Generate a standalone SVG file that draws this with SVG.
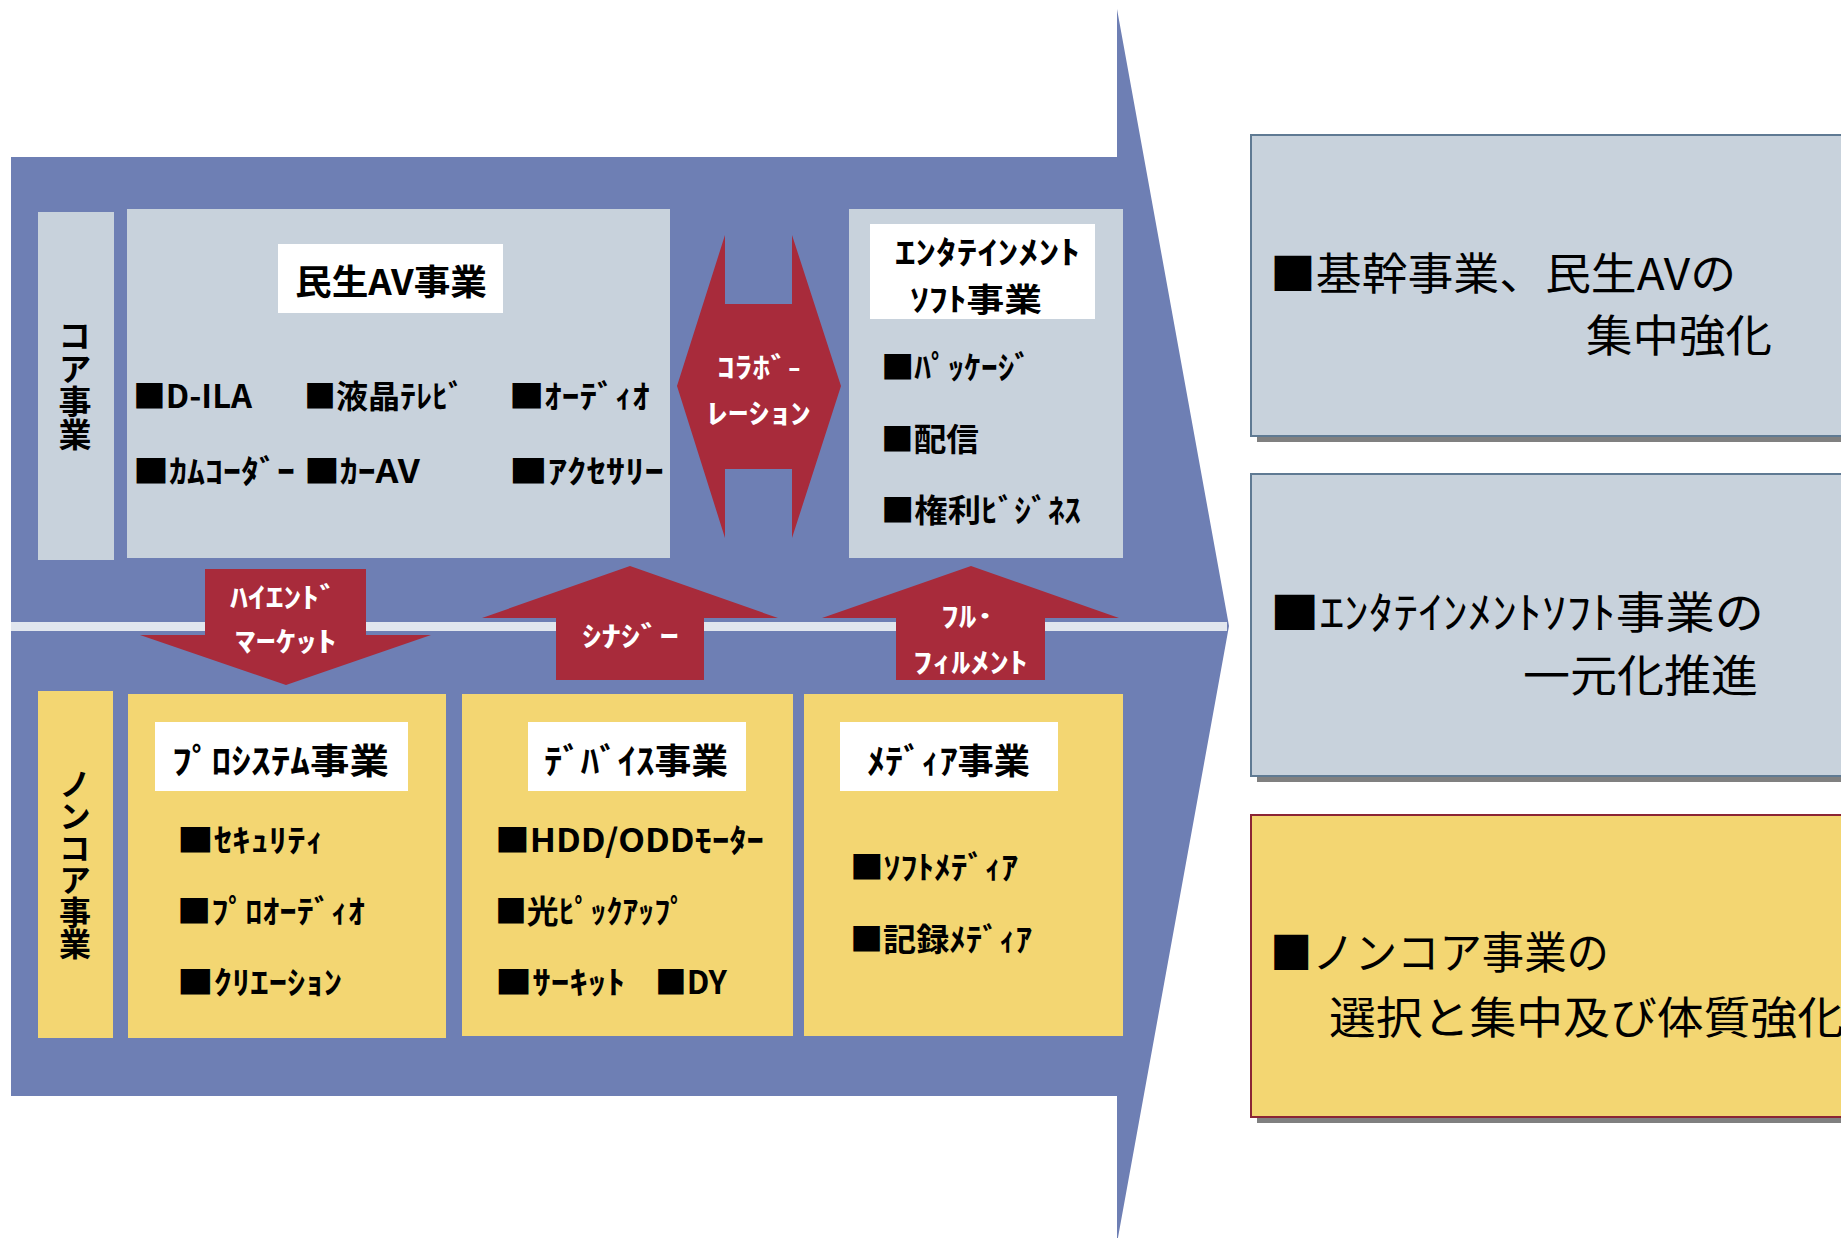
<svg xmlns="http://www.w3.org/2000/svg" width="1841" height="1238" viewBox="0 0 1841 1238">
<style>
.t{font-family:"Noto Sans CJK JP","Noto Sans CJK SC",sans-serif;font-weight:700;fill:#000}
.w{font-family:"Noto Sans CJK JP","Noto Sans CJK SC",sans-serif;font-weight:700;fill:#fff;font-size:28px}
.r{font-family:"Noto Sans CJK JP","Noto Sans CJK SC",sans-serif;font-weight:400;fill:#000;font-size:44px}
.v{writing-mode:vertical-rl;text-orientation:upright}
.gb{fill:#C8D2DC}
.yb{fill:#F3D672}
.wb{fill:#fff}
.red{fill:#A82B3B}
.i{font-size:32px}
.h{font-size:35px}
</style>
<rect width="1841" height="1238" fill="#fff"/>
<g id="band">
<polygon points="11,157 1117,157 1117,9 1229,626 1117,1243 1117,1096 11,1096" fill="#6E7FB4"/>
<rect x="11" y="622" width="1216" height="9" fill="#E1E6EE"/>
</g>
<g id="core-label">
<rect class="gb" x="38" y="212" width="76" height="348"/>
<text class="t v" font-size="33" x="75" y="319">コア事業</text>
</g>
<g id="av">
<rect class="gb" x="127" y="209" width="543" height="349"/>
<rect class="wb" x="278" y="244" width="225" height="69"/>
<text class="t h" x="391" y="295" text-anchor="middle" textLength="192" lengthAdjust="spacingAndGlyphs">民生AV事業</text>
<text class="t i" x="133" y="408" textLength="119" lengthAdjust="spacingAndGlyphs">■D-ILA</text>
<text class="t i" x="304" y="408" textLength="160" lengthAdjust="spacingAndGlyphs">■液晶ﾃﾚﾋﾞ</text>
<text class="t i" x="509" y="408" textLength="141" lengthAdjust="spacingAndGlyphs">■ｵｰﾃﾞｨｵ</text>
<text class="t i" x="133" y="483" textLength="162" lengthAdjust="spacingAndGlyphs">■ｶﾑｺｰﾀﾞｰ</text>
<text class="t i" x="304" y="483" textLength="116" lengthAdjust="spacingAndGlyphs">■ｶｰAV</text>
<text class="t i" x="509" y="483" textLength="155" lengthAdjust="spacingAndGlyphs">■ｱｸｾｻﾘｰ</text>
</g>
<g id="ent">
<rect class="gb" x="849" y="209" width="274" height="349"/>
<rect class="wb" x="870" y="224" width="225" height="95"/>
<text class="t" font-size="32" x="895" y="264" textLength="185" lengthAdjust="spacingAndGlyphs">ｴﾝﾀﾃｲﾝﾒﾝﾄ</text>
<text class="t" font-size="32" x="910" y="311" textLength="132" lengthAdjust="spacingAndGlyphs">ｿﾌﾄ事業</text>
<text class="t i" x="881" y="379" textLength="150" lengthAdjust="spacingAndGlyphs">■ﾊﾟｯｹｰｼﾞ</text>
<text class="t i" x="881" y="451" textLength="98" lengthAdjust="spacingAndGlyphs">■配信</text>
<text class="t i" x="881" y="522" textLength="200" lengthAdjust="spacingAndGlyphs">■権利ﾋﾞｼﾞﾈｽ</text>
</g>
<g id="noncore-label">
<rect class="yb" x="38" y="691" width="75" height="347"/>
<text class="t v" font-size="32" x="75" y="768">ノンコア事業</text>
</g>
<g id="prosystem">
<rect class="yb" x="128" y="694" width="318" height="344"/>
<rect class="wb" x="155" y="722" width="253" height="69"/>
<text class="t h" x="172" y="774" textLength="217" lengthAdjust="spacingAndGlyphs">ﾌﾟﾛｼｽﾃﾑ事業</text>
<text class="t i" x="177" y="852" textLength="147" lengthAdjust="spacingAndGlyphs">■ｾｷｭﾘﾃｨ</text>
<text class="t i" x="177" y="923" textLength="188" lengthAdjust="spacingAndGlyphs">■ﾌﾟﾛｵｰﾃﾞｨｵ</text>
<text class="t i" x="177" y="994" textLength="165" lengthAdjust="spacingAndGlyphs">■ｸﾘｴｰｼｮﾝ</text>
</g>
<g id="device">
<rect class="yb" x="462" y="694" width="331" height="342"/>
<rect class="wb" x="528" y="722" width="218" height="69"/>
<text class="t h" x="544" y="774" textLength="184" lengthAdjust="spacingAndGlyphs">ﾃﾞﾊﾞｲｽ事業</text>
<text class="t i" x="495" y="852" textLength="269" lengthAdjust="spacingAndGlyphs">■HDD/ODDﾓｰﾀｰ</text>
<text class="t i" x="495" y="923" textLength="191" lengthAdjust="spacingAndGlyphs">■光ﾋﾟｯｸｱｯﾌﾟ</text>
<text class="t i" x="495" y="994" textLength="130" lengthAdjust="spacingAndGlyphs">■ｻｰｷｯﾄ</text>
<text class="t i" x="655" y="994" textLength="72" lengthAdjust="spacingAndGlyphs">■DY</text>
</g>
<g id="media">
<rect class="yb" x="804" y="694" width="319" height="342"/>
<rect class="wb" x="840" y="722" width="218" height="69"/>
<text class="t h" x="867" y="774" textLength="163" lengthAdjust="spacingAndGlyphs">ﾒﾃﾞｨｱ事業</text>
<text class="t i" x="850" y="879" textLength="168" lengthAdjust="spacingAndGlyphs">■ｿﾌﾄﾒﾃﾞｨｱ</text>
<text class="t i" x="850" y="951" textLength="182" lengthAdjust="spacingAndGlyphs">■記録ﾒﾃﾞｨｱ</text>
</g>
<g id="connectors">
<g id="collab">
<polygon class="red" points="677,386 725,235 725,304 792,304 792,235 841,386 792,538 792,469 725,469 725,538"/>
<text class="w" x="717" y="378" textLength="84" lengthAdjust="spacingAndGlyphs">ｺﾗﾎﾞ-</text>
<text class="w" x="707" y="424" textLength="104" lengthAdjust="spacingAndGlyphs">ﾚｰｼｮﾝ</text>
</g>
<g id="highend">
<polygon class="red" points="205,569 366,569 366,635 431,635 286,685 140,635 205,635"/>
<text class="w" x="230" y="608" textLength="107" lengthAdjust="spacingAndGlyphs">ﾊｲｴﾝﾄﾞ</text>
<text class="w" x="235" y="652" textLength="102" lengthAdjust="spacingAndGlyphs">ﾏｰｹｯﾄ</text>
</g>
<g id="synergy">
<polygon class="red" points="630,566 778,618 704,618 704,680 556,680 556,618 482,618"/>
<text class="w" x="582" y="647" textLength="97" lengthAdjust="spacingAndGlyphs">ｼﾅｼﾞｰ</text>
</g>
<g id="fulfill">
<polygon class="red" points="971,566 1119,618 1045,618 1045,680 896,680 896,618 822,618"/>
<text class="w" x="941" y="627" textLength="53" lengthAdjust="spacingAndGlyphs">ﾌﾙ･</text>
<text class="w" x="913" y="673" textLength="115" lengthAdjust="spacingAndGlyphs">ﾌｨﾙﾒﾝﾄ</text>
</g>
</g>
<g id="result1">
<rect x="1257" y="141" width="600" height="301" fill="#808080"/>
<rect x="1251" y="135" width="600" height="301" fill="#C8D2DC" stroke="#5F7A93" stroke-width="2"/>
<text class="r" x="1270" y="290" textLength="466" lengthAdjust="spacingAndGlyphs">■基幹事業、民生AVの</text>
<text class="r" x="1586" y="352" textLength="186" lengthAdjust="spacingAndGlyphs">集中強化</text>
</g>
<g id="result2">
<rect x="1257" y="480" width="600" height="302" fill="#808080"/>
<rect x="1251" y="474" width="600" height="302" fill="#C8D2DC" stroke="#5F7A93" stroke-width="2"/>
<text class="r" x="1270" y="629" textLength="494" lengthAdjust="spacingAndGlyphs">■ｴﾝﾀﾃｲﾝﾒﾝﾄｿﾌﾄ事業の</text>
<text class="r" x="1523" y="692" textLength="235" lengthAdjust="spacingAndGlyphs">一元化推進</text>
</g>
<g id="result3">
<rect x="1257" y="821" width="600" height="302" fill="#808080"/>
<rect x="1251" y="815" width="600" height="302" fill="#F3D672" stroke="#8B2535" stroke-width="2"/>
<text class="r" x="1270" y="969" textLength="339" lengthAdjust="spacingAndGlyphs">■ノンコア事業の</text>
<text class="r" x="1329" y="1034" textLength="515" lengthAdjust="spacingAndGlyphs">選択と集中及び体質強化</text>
</g>
</svg>
